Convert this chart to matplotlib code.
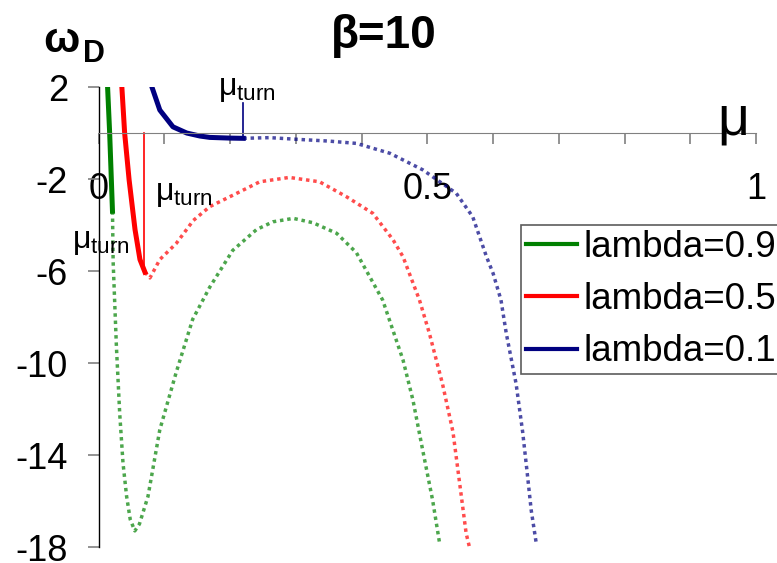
import numpy as np
import matplotlib
matplotlib.use("Agg")
import matplotlib.pyplot as plt

plt.rcParams['font.family'] = ['Liberation Sans', 'DejaVu Sans']
plt.rcParams['mathtext.fontset'] = 'custom'
plt.rcParams['mathtext.rm'] = 'Liberation Sans'
plt.rcParams['mathtext.it'] = 'Liberation Sans'
plt.rcParams['mathtext.bf'] = 'Liberation Sans:bold'
plt.rcParams['axes.unicode_minus'] = False

# lambda = 0.9 (green)
green_solid_x = [0.0126, 0.0167, 0.021]
green_solid_y = [2.6, 0.0, -3.4]
green_dot_x = [0.021, 0.022, 0.027, 0.032, 0.037, 0.0425, 0.048, 0.055, 0.062, 0.075,
               0.093, 0.118, 0.143, 0.169, 0.204, 0.24, 0.265, 0.296, 0.326, 0.362,
               0.392, 0.432, 0.463, 0.478, 0.493, 0.508, 0.519]
green_dot_y = [-3.4, -5.6, -9.3, -12.2, -14.35, -15.8, -16.8, -17.3, -17.0, -15.8,
               -12.9, -10.4, -8.1, -6.7, -5.1, -4.2, -3.86, -3.71, -3.9, -4.36,
               -5.2, -7.26, -9.87, -11.6, -13.8, -15.96, -17.9]

# lambda = 0.5 (red)
red_solid_x = [0.034, 0.0395, 0.0463, 0.0553, 0.0628, 0.0704]
red_solid_y = [2.6, 0.0, -2.04, -4.2, -5.5, -6.05]
red_dot_x = [0.0704, 0.078, 0.093, 0.118, 0.144, 0.169, 0.215, 0.245, 0.29, 0.336,
             0.377, 0.417, 0.448, 0.463, 0.488, 0.503, 0.523, 0.539, 0.549, 0.559, 0.564]
red_dot_y = [-6.05, -6.3, -5.5, -4.8, -3.8, -3.2, -2.55, -2.12, -1.93, -2.12,
             -2.77, -3.49, -4.65, -5.38, -7.26, -8.7, -10.9, -13.0, -15.2, -17.4, -18.0]

# lambda = 0.1 (navy)
blue_solid_x = [0.078, 0.081, 0.093, 0.113, 0.134, 0.154, 0.169, 0.2, 0.22]
blue_solid_y = [2.6, 2.0, 1.0, 0.27, 0.0, -0.13, -0.19, -0.22, -0.23]
blue_dot_x = [0.22, 0.26, 0.306, 0.35, 0.392, 0.443, 0.493, 0.544, 0.569, 0.59,
              0.60, 0.612, 0.62, 0.635, 0.645, 0.652, 0.658, 0.666]
blue_dot_y = [-0.23, -0.2, -0.28, -0.35, -0.45, -0.88, -1.6, -2.62, -3.64, -5.38,
              -6.1, -7.26, -8.7, -10.9, -13.0, -14.8, -16.4, -17.9]

# mu_turn markers and labels
turn_red = (0.069, 0.0, -6.05)
turn_blue = (0.22, 1.3, -0.23)
turn_labels = [(-0.04, -5.0), (0.086, -2.9), (0.181, 1.65)]

y_ticks = [2, -2, -6, -10, -14, -18]
x_ticks = np.round(np.arange(0, 1.01, 0.1), 1)
x_ticklabels = ['0', '', '', '', '', '0.5', '', '', '', '', '1']
labels = ['lambda=0.9', 'lambda=0.5', 'lambda=0.1']
colors = ['#008000', '#ff0000', '#000080']

fig = plt.figure(figsize=(7.77, 5.63), dpi=100)
ax = fig.add_axes([0.127, 0.0284, 0.846, 0.817])

# solid parts
l1, = ax.plot(green_solid_x, green_solid_y, color=colors[0], lw=3.6)
l2, = ax.plot(red_solid_x, red_solid_y, color=colors[1], lw=3.6)
l3, = ax.plot(blue_solid_x, blue_solid_y, color=colors[2], lw=3.6)

# dotted parts
for xs, ys, c in [(green_dot_x, green_dot_y, colors[0]),
                  (red_dot_x, red_dot_y, colors[1]),
                  (blue_dot_x, blue_dot_y, colors[2])]:
    ax.plot(xs, ys, color=c, lw=2.5, ls=(0, (1, 1.1)), alpha=0.7)

# turning point markers
ax.plot([turn_red[0], turn_red[0]], [turn_red[1], turn_red[2]], color=colors[1], lw=1.2)
ax.plot([turn_blue[0], turn_blue[0]], [turn_blue[1], turn_blue[2]], color=colors[2], lw=1.2)
for tx, ty in turn_labels:
    ax.text(tx, ty, r'$\mu_{\mathrm{turn}}$', fontsize=23, va='baseline', ha='left')

ax.set_xlim(0, 1)
ax.set_ylim(-18, 2)

ax.spines['top'].set_visible(False)
ax.spines['right'].set_visible(False)
ax.spines['bottom'].set_position(('data', 0))
ax.spines['bottom'].set_color('#808080')
ax.spines['left'].set_color('black')
ax.spines['left'].set_linewidth(1.0)

ax.set_yticks(y_ticks)
ax.set_yticklabels([str(v) for v in y_ticks])
ax.set_xticks(x_ticks)
ax.set_xticklabels(x_ticklabels)
ax.tick_params(axis='y', length=8, width=1.2, color='#808080', pad=14, labelsize=26)
ax.tick_params(axis='x', direction='out', length=8, width=1.2, color='#808080', pad=20, labelsize=26)

ax.text(0.941, -0.05, 'μ', fontsize=40, va='baseline', ha='left')

fig.text(384 / 777, 1 - 48 / 563, 'β=10', fontsize=33, fontweight='bold', ha='center', va='baseline')
fig.text(43 / 777, 1 - 52 / 563, 'ω', fontsize=31, fontweight='bold', ha='left', va='baseline')
fig.text(83 / 777, 1 - 62 / 563, 'D', fontsize=22, fontweight='bold', ha='left', va='baseline')

leg = fig.legend([l1, l2, l3], labels, loc='upper left', bbox_to_anchor=(521 / 777, 1 - 225 / 563),
                 borderaxespad=0, fontsize=26.5, frameon=True, fancybox=False, labelspacing=0.47,
                 handlelength=1.38, handletextpad=0.2, borderpad=0.13)
leg.get_frame().set_edgecolor('#333333')
leg.get_frame().set_linewidth(1.2)
for h in leg.get_lines():
    h.set_linewidth(3.0)

fig.savefig('out.png', dpi=100)
